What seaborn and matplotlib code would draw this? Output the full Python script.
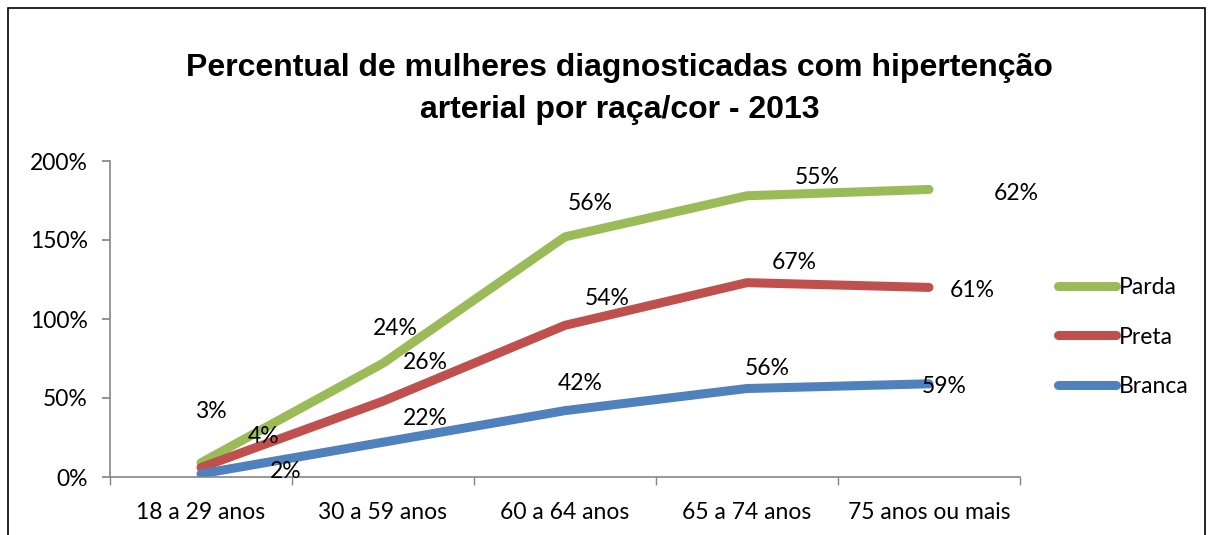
import numpy as np
import pandas as pd
import matplotlib
matplotlib.use("Agg")
import matplotlib.pyplot as plt
import seaborn as sns
from matplotlib.patches import Rectangle

categories = ["18 a 29 anos", "30 a 59 anos", "60 a 64 anos", "65 a 74 anos", "75 anos ou mais"]
branca = [2, 22, 42, 56, 59]
preta = [4, 26, 54, 67, 61]
parda = [3, 24, 56, 55, 62]
series_names = ["Branca", "Preta", "Parda"]
colors = {"Branca": "#4F81BD", "Preta": "#C0504D", "Parda": "#9BBB59"}
yticks = [0, 50, 100, 150, 200]

# label offsets in pixels (dx, dy) relative to each point, dy downward positive
label_offsets = {
    "Parda": [(10, -51), (12, -35), (25, -33), (70, -18), (87, 4)],
    "Preta": [(63, -31), (42, -39), (42, -27), (47, -20), (43, 3)],
    "Branca": [(85, -2), (42, -24), (15, -27), (20, -20), (15, 3)],
}

sns.set_theme(style="white")
plt.rcParams["font.family"] = ["Lato", "DejaVu Sans"]
plt.rcParams["text.color"] = "black"
plt.rcParams["xtick.color"] = "black"
plt.rcParams["ytick.color"] = "black"

FS = 16.5

raw = {"Branca": branca, "Preta": preta, "Parda": parda}
stacked = {}
running = np.zeros(len(categories))
for name in series_names:
    running = running + np.array(raw[name], dtype=float)
    stacked[name] = running.copy()

rows = []
for name in series_names:
    for i, cat in enumerate(categories):
        rows.append({"x": i, "y": stacked[name][i], "serie": name, "raw": raw[name][i]})
df = pd.DataFrame(rows)

fig = plt.figure(figsize=(12.08, 5.35), dpi=100)
ax = fig.add_axes([110/1208, 58/535, 910/1208, 316/535])

for name in ["Parda", "Preta", "Branca"]:
    sub = df[df["serie"] == name]
    sns.lineplot(data=sub, x="x", y="y", ax=ax, color=colors[name], linewidth=6.5,
                 label=name, solid_capstyle="round", solid_joinstyle="round")
    for (_, r), (dx, dy) in zip(sub.iterrows(), label_offsets[name]):
        ax.annotate(f"{int(r['raw'])}%", (r["x"], r["y"]), xytext=(dx, -dy),
                    textcoords="offset pixels", ha="center", va="center",
                    fontsize=FS, color="black")

ax.set_xlim(-0.5, len(categories) - 0.5)
ax.set_ylim(0, 200)
ax.set_yticks(yticks)
ax.set_yticklabels([f"{v}%" for v in yticks], fontsize=FS)
ax.set_xticks(range(len(categories)))
ax.set_xticklabels(categories, fontsize=FS)
ax.set_xticks(np.arange(-0.5, len(categories), 1.0), minor=True)
ax.tick_params(axis="x", which="major", length=0, pad=18)
ax.tick_params(axis="x", which="minor", length=6, color="#868686", direction="out", bottom=True)
ax.tick_params(axis="y", which="major", length=6, color="#868686", direction="out", left=True,
               pad=10, labelcolor="black")
ax.set_xlabel("")
ax.set_ylabel("")
for s in ["top", "right"]:
    ax.spines[s].set_visible(False)
for s in ["left", "bottom"]:
    ax.spines[s].set_color("#868686")
    ax.spines[s].set_linewidth(1.2)
ax.grid(False)

handles, labels = ax.get_legend_handles_labels()
ax.legend(handles, labels, loc="center left", bbox_to_anchor=(1.042, 0.443), frameon=False,
          fontsize=FS, handlelength=2.5, handletextpad=0.15, labelspacing=1.25,
          borderpad=0, borderaxespad=0)

fig.text(0.513, 1 - 89/535, "Percentual de mulheres diagnosticadas com hipertenção\narterial por raça/cor - 2013",
         ha="center", va="center", fontsize=23, fontweight="bold", color="black",
         family=["Liberation Sans", "DejaVu Sans"], linespacing=1.5)

fig.patches.append(Rectangle((8/1208, -0.1), 1197/1208, 1.1 - 8/535, transform=fig.transFigure,
                             fill=False, edgecolor="black", linewidth=1.2))

fig.savefig("out.png", dpi=100)
